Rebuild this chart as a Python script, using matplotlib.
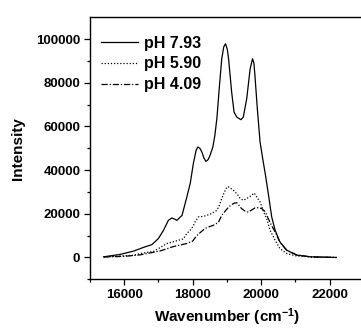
import matplotlib
matplotlib.use('Agg')
import matplotlib.pyplot as plt

plt.rcParams['font.family'] = ['Liberation Sans', 'DejaVu Sans']
plt.rcParams['font.weight'] = 'bold'
plt.rcParams['mathtext.default'] = 'regular'

# pH 7.93
wn_a = [15400, 15880, 16270, 16560, 16810, 17000, 17150, 17290, 17390, 17470,
        17540, 17690, 17830, 17930, 18020, 18100, 18150, 18210, 18270, 18330,
        18390, 18450, 18510, 18590, 18650, 18710, 18780, 18850, 18910, 18960,
        19010, 19050, 19140, 19210, 19290, 19410, 19480, 19580, 19680, 19750,
        19790, 19820, 19890, 19970, 20050, 20120, 20210, 20310, 20410, 20550,
        20750, 21040, 21430, 22200]
int_a = [300, 1400, 2900, 4600, 5900, 8700, 12500, 17000, 18100, 17600,
         17000, 19300, 27700, 34000, 43000, 49000, 50600, 50000, 48300, 45500,
         44000, 44800, 46800, 50600, 56000, 64000, 78000, 91000, 96500, 97900,
         95500, 91000, 75700, 66600, 64300, 63100, 64300, 72700, 86400, 91000,
         89000, 83400, 68100, 52900, 45000, 38500, 29300, 18600, 12500, 7100,
         3300, 1100, 300, 0]

# pH 5.90
wn_b = [15400, 16270, 16470, 16860, 17250, 17590, 17730, 17830, 17930, 18020,
        18070, 18170, 18220, 18350, 18510, 18710, 18770, 18850, 18930, 19000,
        19050, 19190, 19300, 19390, 19480, 19580, 19700, 19800, 19860, 19970,
        20070, 20170, 20260, 20410, 20550, 20750, 21000, 21400, 22200]
int_b = [300, 1000, 1800, 2800, 6400, 7900, 8500, 11000, 12500, 14500,
         16300, 18600, 18600, 19000, 19800, 21600, 23500, 27000, 30000, 32300,
         32300, 30800, 29000, 27000, 26200, 27000, 28200, 29500, 28000, 25400,
         21000, 17500, 12500, 7900, 4100, 1800, 800, 300, 0]

# pH 4.09
wn_c = [15400, 16000, 16470, 17050, 17440, 17830, 18000, 18120, 18360, 18610,
        18750, 18850, 19050, 19200, 19290, 19430, 19550, 19630, 19820, 19920,
        20020, 20120, 20210, 20310, 20410, 20550, 20750, 21040, 21430, 22200]
int_c = [200, 500, 1200, 3000, 5000, 6400, 7500, 10000, 13300, 14800,
         16000, 19300, 23100, 24800, 25100, 22400, 21000, 20800, 22700, 22800,
         22400, 21000, 17800, 14500, 11700, 7000, 3300, 1200, 300, 0]

labels = ['pH 7.93', 'pH 5.90', 'pH 4.09']

fig = plt.figure(figsize=(3.61, 3.32), dpi=100)
ax = fig.add_axes([0.2493, 0.1587, 0.7583, 0.7892])

ax.plot(wn_a, int_a, color='black', lw=0.9, ls='-', label=labels[0])
ax.plot(wn_b, int_b, color='black', lw=0.9, ls=(0, (1, 1.5)), label=labels[1])
ax.plot(wn_c, int_c, color='black', lw=0.9, ls=(0, (5, 1.5, 1, 1.5)), label=labels[2])

ax.set_xlim(15000, 23000)
ax.set_ylim(-10000, 110000)
ax.set_xticks([16000, 18000, 20000, 22000])
ax.set_xticks([15000, 17000, 19000, 21000, 23000], minor=True)
ax.set_yticks([0, 20000, 40000, 60000, 80000, 100000])
ax.set_yticks([-10000, 10000, 30000, 50000, 70000, 90000], minor=True)

ax.spines['right'].set_visible(False)
for s in ax.spines.values():
    s.set_linewidth(1.0)

ax.tick_params(which='major', direction='out', length=4, width=0.9, labelsize=9.5, pad=3)
ax.tick_params(which='minor', direction='out', length=2.5, width=0.9)
ax.tick_params(axis='y', which='both', right=False)
ax.tick_params(axis='x', which='both', top=False)

ax.set_xlabel('Wavenumber (cm$^{-1}$)', fontsize=11, fontweight='bold', labelpad=4)
ax.set_ylabel('Intensity', fontsize=11, fontweight='bold', labelpad=8)

ax.legend(loc='upper left', bbox_to_anchor=(0.0, 0.973), frameon=False,
          fontsize=11.5, handlelength=2.3, handletextpad=0.4,
          labelspacing=0.37, borderaxespad=0.3)

fig.savefig('out.png', dpi=100)
